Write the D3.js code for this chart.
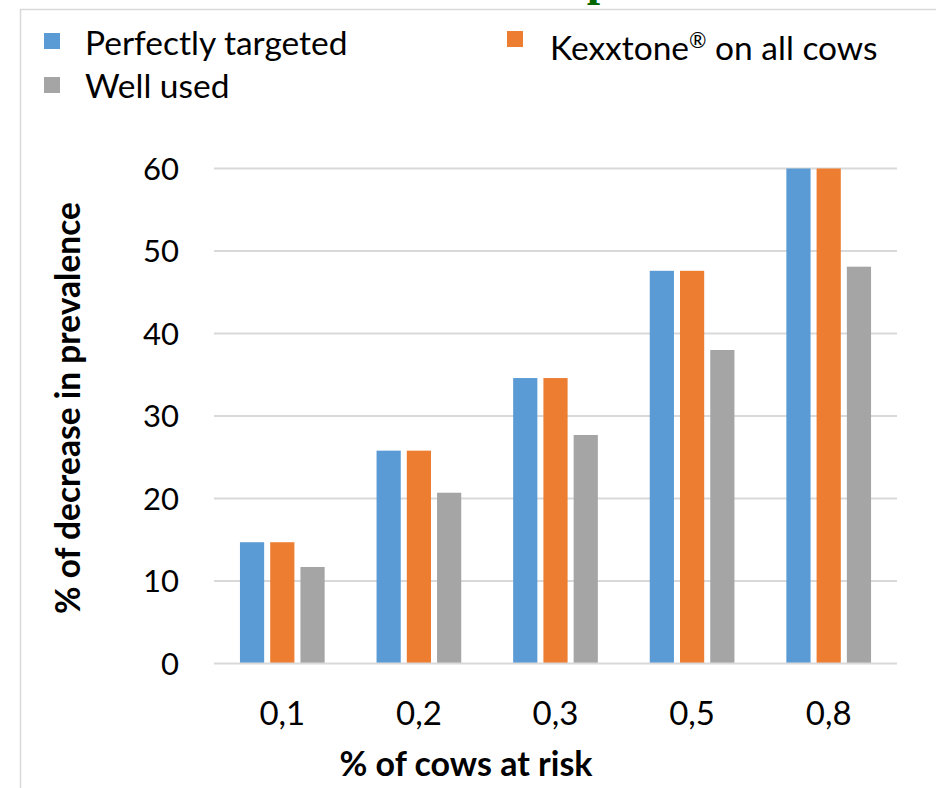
<!DOCTYPE html>
<html>
<head>
<meta charset="utf-8">
<script src="https://cdn.jsdelivr.net/npm/d3@7"></script>
<style>
  html, body { margin: 0; padding: 0; background: #fff; }
  svg { display: block; }
  text { font-family: Lato, "Open Sans", sans-serif; fill: #000; }
</style>
</head>
<body>
<svg id="chart" width="936" height="788"></svg>
<script>
const categories = ["0,1", "0,2", "0,3", "0,5", "0,8"];
const seriesNames = ["Perfectly targeted", "Kexxtone® on all cows", "Well used"];
const perfectlyTargeted = [14.7, 25.8, 34.6, 47.6, 60.0];
const kexxtoneAll = [14.7, 25.8, 34.6, 47.6, 60.0];
const wellUsed = [11.7, 20.7, 27.7, 38.0, 48.1];
const yTicks = [0, 10, 20, 30, 40, 50, 60];
const colors = ["#5b9bd5", "#ed7d31", "#a5a5a5"];
const xTitle = "% of cows at risk";
const yTitle = "% of decrease in prevalence";

const seriesValues = [perfectlyTargeted, kexxtoneAll, wellUsed];
const svg = d3.select("#chart");

// frame (chart area border, partially visible)
svg.append("path")
  .attr("d", "M20.5,788 L20.5,9.5 L936,9.5")
  .attr("fill", "none").attr("stroke", "#d9d9d9").attr("stroke-width", 1.5);

// cut-off slide title glyph (only its descender shows above the chart)
svg.append("text").text("p")
  .attr("x", 600).attr("y", -5)
  .attr("text-anchor", "middle")
  .style("font-family", "'Liberation Serif', serif")
  .style("font-weight", "bold").style("font-size", "48px")
  .style("fill", "#006600");

const x0 = d3.scaleBand().domain(categories).range([214, 897]).paddingInner(0.38).paddingOuter(0.19);
const x1 = d3.scaleBand().domain(d3.range(3)).range([0, x0.bandwidth()]).paddingInner(0.2).paddingOuter(0);
const y = d3.scaleLinear().domain([0, 60]).range([663.5, 168.5]);

// gridlines
svg.append("g").selectAll("line").data(yTicks.filter(d => d > 0)).join("line")
  .attr("x1", 214).attr("x2", 897)
  .attr("y1", d => y(d)).attr("y2", d => y(d))
  .attr("stroke", "#d9d9d9").attr("stroke-width", 2);

// y tick labels
svg.append("g").selectAll("text").data(yTicks).join("text")
  .attr("x", 179).attr("y", d => y(d))
  .attr("dy", "0.36em")
  .attr("text-anchor", "end")
  .style("font-size", "31px")
  .text(d => d);

// bars
const groups = svg.append("g").selectAll("g").data(categories).join("g")
  .attr("transform", c => `translate(${x0(c)},0)`);
groups.selectAll("rect")
  .data((c, i) => seriesValues.map((s, k) => ({k, v: s[i]})))
  .join("rect")
  .attr("x", d => x1(d.k))
  .attr("width", x1.bandwidth())
  .attr("y", d => y(d.v))
  .attr("height", d => y(0) - y(d.v))
  .attr("fill", d => colors[d.k]);

// baseline
svg.append("line")
  .attr("x1", 214).attr("x2", 897)
  .attr("y1", y(0)).attr("y2", y(0))
  .attr("stroke", "#d9d9d9").attr("stroke-width", 2);

// x tick labels
svg.append("g").selectAll("text").data(categories).join("text")
  .attr("x", c => x0(c) + x0.bandwidth() / 2)
  .attr("y", 725)
  .attr("text-anchor", "middle")
  .style("font-size", "33px")
  .text(c => c);

// axis titles
svg.append("text")
  .attr("x", 466).attr("y", 776)
  .attr("text-anchor", "middle")
  .style("font-size", "34px").style("font-weight", "bold")
  .text(xTitle);

svg.append("text")
  .attr("transform", "translate(80,408) rotate(-90)")
  .attr("text-anchor", "middle")
  .style("font-size", "33.5px").style("font-weight", "bold")
  .text(yTitle);

// legend
const legendItems = [
  {k: 0, sx: 44, sy: 33, tx: 85, ty: 55},
  {k: 1, sx: 507, sy: 31, tx: 550, ty: 60},
  {k: 2, sx: 44, sy: 77, tx: 85, ty: 98}
];
const lg = svg.append("g");
lg.selectAll("rect").data(legendItems).join("rect")
  .attr("x", d => d.sx).attr("y", d => d.sy)
  .attr("width", 16).attr("height", 16)
  .attr("fill", d => colors[d.k]);
lg.selectAll("text").data(legendItems).join("text")
  .attr("x", d => d.tx).attr("y", d => d.ty)
  .style("font-size", "33.5px")
  .each(function(d) {
    const t = d3.select(this);
    const parts = seriesNames[d.k].split("®");
    t.append("tspan").text(parts[0]);
    if (parts.length > 1) {
      t.append("tspan").attr("dy", -12).style("font-size", "21px").text("®");
      t.append("tspan").attr("dy", 12).text(parts[1]);
    }
  });
</script>
</body>
</html>
